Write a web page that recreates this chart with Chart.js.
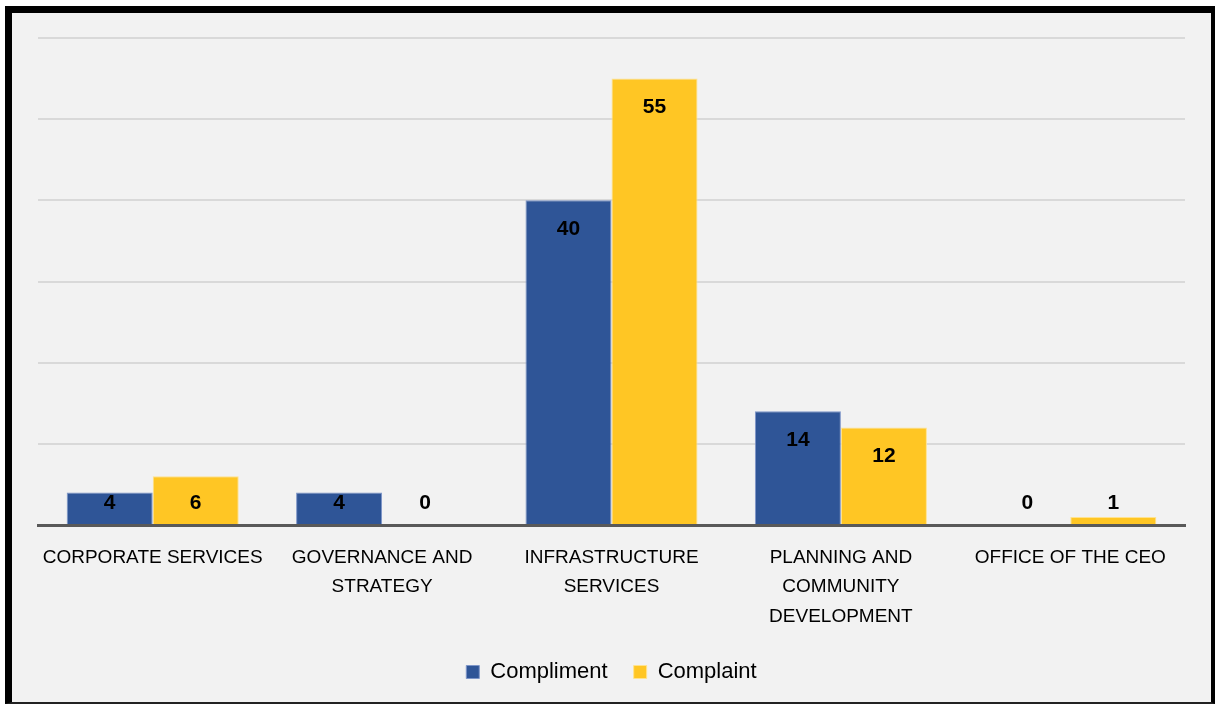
<!DOCTYPE html>
<html>
<head>
<meta charset="utf-8">
<title>Compliments and complaints by directorate</title>
<script src="https://cdn.jsdelivr.net/npm/chart.js@4/dist/chart.umd.min.js"></script>
<style>
  html, body { margin: 0; padding: 0; background: #ffffff; }
  #frame {
    position: absolute; left: 5px; top: 6px; width: 1210px; height: 698px;
    box-sizing: border-box; background: #f2f2f2;
    border-left: 7px solid #000; border-top: 7px solid #000;
    border-right: 4px solid #000; border-bottom: 2px solid #222;
  }
  #chart { position: absolute; left: 0; top: 0; }
</style>
</head>
<body>
<div id="frame"></div>
<canvas id="chart" width="1215" height="704"></canvas>
<script>
// Directorates along the x axis (multi-line labels)
const categories = [
    ['CORPORATE SERVICES'],
    ['GOVERNANCE AND', 'STRATEGY'],
    ['INFRASTRUCTURE', 'SERVICES'],
    ['PLANNING AND', 'COMMUNITY', 'DEVELOPMENT'],
    ['OFFICE OF THE CEO']
];
const compliments = [4, 4, 40, 14, 0];
const complaints = [6, 0, 55, 12, 1];
const yTicks = [0, 10, 20, 30, 40, 50, 60];

const FONT = '"Liberation Sans", Arial, sans-serif';

// Writes each value inside the top of its bar
const valueLabels = {
    id: 'valueLabels',
    afterDatasetsDraw(chart) {
        const ctx = chart.ctx;
        const base = chart.scales.y.getPixelForValue(0);
        ctx.save();
        ctx.font = 'bold 21px ' + FONT;
        ctx.fillStyle = '#000000';
        ctx.textAlign = 'center';
        ctx.textBaseline = 'middle';
        chart.data.datasets.forEach(function(ds, i) {
            const meta = chart.getDatasetMeta(i);
            meta.data.forEach(function(bar, j) {
                const y = Math.min(bar.y + 29, base - 22);
                ctx.fillText(String(ds.data[j]), bar.x, y);
            });
        });
        ctx.restore();
    }
};

new Chart(document.getElementById('chart'), {
    type: 'bar',
    data: {
        labels: categories,
        datasets: [
            {
                label: 'Compliment',
                data: compliments,
                backgroundColor: '#2f5597',
                borderColor: '#7d95c8',
                borderWidth: 1
            },
            {
                label: 'Complaint',
                data: complaints,
                backgroundColor: '#ffc624',
                borderColor: '#ffe38f',
                borderWidth: 1
            }
        ]
    },
    options: {
        responsive: false,
        animation: false,
        categoryPercentage: 0.75,
        barPercentage: 1.0,
        layout: {
            padding: { left: 38, right: 30, top: 38, bottom: 11 }
        },
        plugins: {
            legend: {
                position: 'bottom',
                labels: {
                    boxWidth: 13,
                    boxHeight: 13,
                    padding: 26,
                    color: '#000000',
                    font: { family: FONT, size: 22 }
                }
            },
            tooltip: { enabled: false }
        },
        scales: {
            x: {
                grid: { display: false, drawTicks: false },
                border: { display: true, color: '#595959', width: 3 },
                ticks: {
                    color: '#000000',
                    padding: 18,
                    font: { family: FONT, size: 19, lineHeight: 1.55 },
                    maxRotation: 0,
                    autoSkip: false
                },
                afterFit: function(scale) { scale.height = 110; }
            },
            y: {
                min: yTicks[0],
                max: yTicks[yTicks.length - 1],
                afterBuildTicks: function(scale) {
                    scale.ticks = yTicks.map(function(v) { return { value: v }; });
                },
                grid: { color: '#d9d9d9', lineWidth: 2, drawTicks: false },
                border: { display: false },
                ticks: { display: false },
                afterFit: function(scale) { scale.width = 0; }
            }
        }
    },
    plugins: [valueLabels]
});
</script>
</body>
</html>
